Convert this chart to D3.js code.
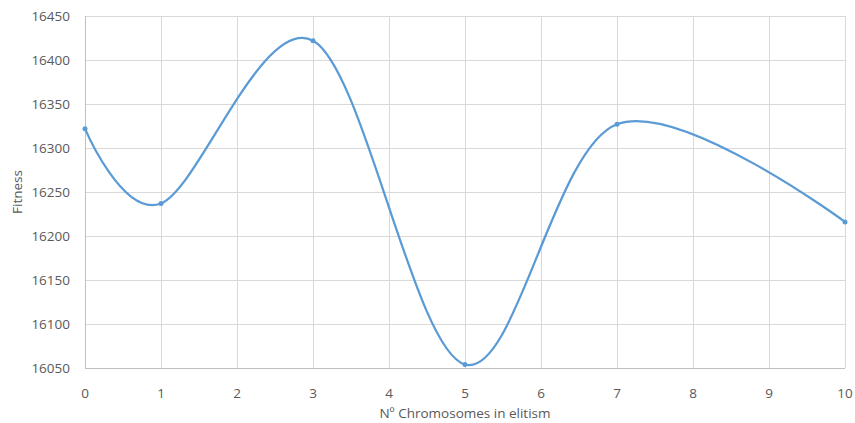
<!DOCTYPE html>
<html>
<head>
<meta charset="utf-8">
<script src="https://cdn.jsdelivr.net/npm/d3@7"></script>
<style>
  body { margin: 0; background: #fff; }
  text { font-family: "Open Sans", sans-serif; fill: #595959; }
</style>
</head>
<body>
<div id="chart"></div>
<script>
var xVals = [0, 1, 3, 5, 7, 10];
var fitness = [16322, 16237, 16422, 16054, 16327, 16216];
var xTicks = [0, 1, 2, 3, 4, 5, 6, 7, 8, 9, 10];
var yTicks = [16050, 16100, 16150, 16200, 16250, 16300, 16350, 16400, 16450];

var data = xVals.map((d, i) => ({x: d, y: fitness[i]}));

var width = 855, height = 423;
var margin = ({top: 16, right: 10, bottom: 55, left: 85});
var visWidth = width - margin.left - margin.right;
var visHeight = height - margin.top - margin.bottom;

var x = d3.scaleLinear().domain([0, 10]).range([0, visWidth]);
var y = d3.scaleLinear().domain([16050, 16450]).range([visHeight, 0]);

const svg = d3.select('#chart')
    .append('svg')
    .attr('width', width)
    .attr('height', height);

const g = svg.append('g')
    .attr('transform', `translate(${margin.left}, ${margin.top})`);

// grid
g.append('g')
  .selectAll('line')
  .data(yTicks)
  .join('line')
    .attr('x1', 0).attr('x2', visWidth)
    .attr('y1', d => y(d) + 0.5).attr('y2', d => y(d) + 0.5)
    .attr('stroke', '#d9d9d9');

g.append('g')
  .selectAll('line')
  .data(xTicks)
  .join('line')
    .attr('x1', d => Math.round(x(d)) + 0.5).attr('x2', d => Math.round(x(d)) + 0.5)
    .attr('y1', 0).attr('y2', visHeight)
    .attr('stroke', '#d9d9d9');

// axis lines
g.append('line')
  .attr('x1', 0.5).attr('x2', 0.5).attr('y1', 0).attr('y2', visHeight)
  .attr('stroke', '#bfbfbf');
g.append('line')
  .attr('x1', 0).attr('x2', visWidth).attr('y1', visHeight + 0.5).attr('y2', visHeight + 0.5)
  .attr('stroke', '#bfbfbf');

// tick labels
g.append('g')
  .selectAll('text')
  .data(yTicks)
  .join('text')
    .attr('x', -15)
    .attr('y', d => y(d))
    .attr('dy', '0.35em')
    .attr('text-anchor', 'end')
    .style('font-size', '13.5px')
    .text(d => d);

g.append('g')
  .selectAll('text')
  .data(xTicks)
  .join('text')
    .attr('x', d => x(d))
    .attr('y', visHeight + 25)
    .attr('dy', '0.35em')
    .attr('text-anchor', 'middle')
    .style('font-size', '13.5px')
    .text(d => d);

// axis titles
svg.append('text')
  .attr('x', margin.left + visWidth / 2)
  .attr('y', 413)
  .attr('dy', '0.35em')
  .attr('text-anchor', 'middle')
  .style('font-size', '13.5px')
  .text('Nº Chromosomes in elitism');

svg.append('text')
  .attr('transform', `translate(17, ${margin.top + visHeight / 2}) rotate(-90)`)
  .attr('dy', '0.35em')
  .attr('text-anchor', 'middle')
  .style('font-size', '13.5px')
  .text('Fitness');

// smoothed line
const line = d3.line()
  .x(d => x(d.x))
  .y(d => y(d.y))
  .curve(d3.curveCardinal.tension(0));

g.append('path')
  .datum(data)
  .attr('fill', 'none')
  .attr('stroke', '#5b9bd5')
  .attr('stroke-width', 2.25)
  .attr('d', line);

g.selectAll('circle')
  .data(data)
  .join('circle')
    .attr('cx', d => x(d.x))
    .attr('cy', d => y(d.y))
    .attr('r', 2.5)
    .attr('fill', '#5b9bd5');
</script>
</body>
</html>
